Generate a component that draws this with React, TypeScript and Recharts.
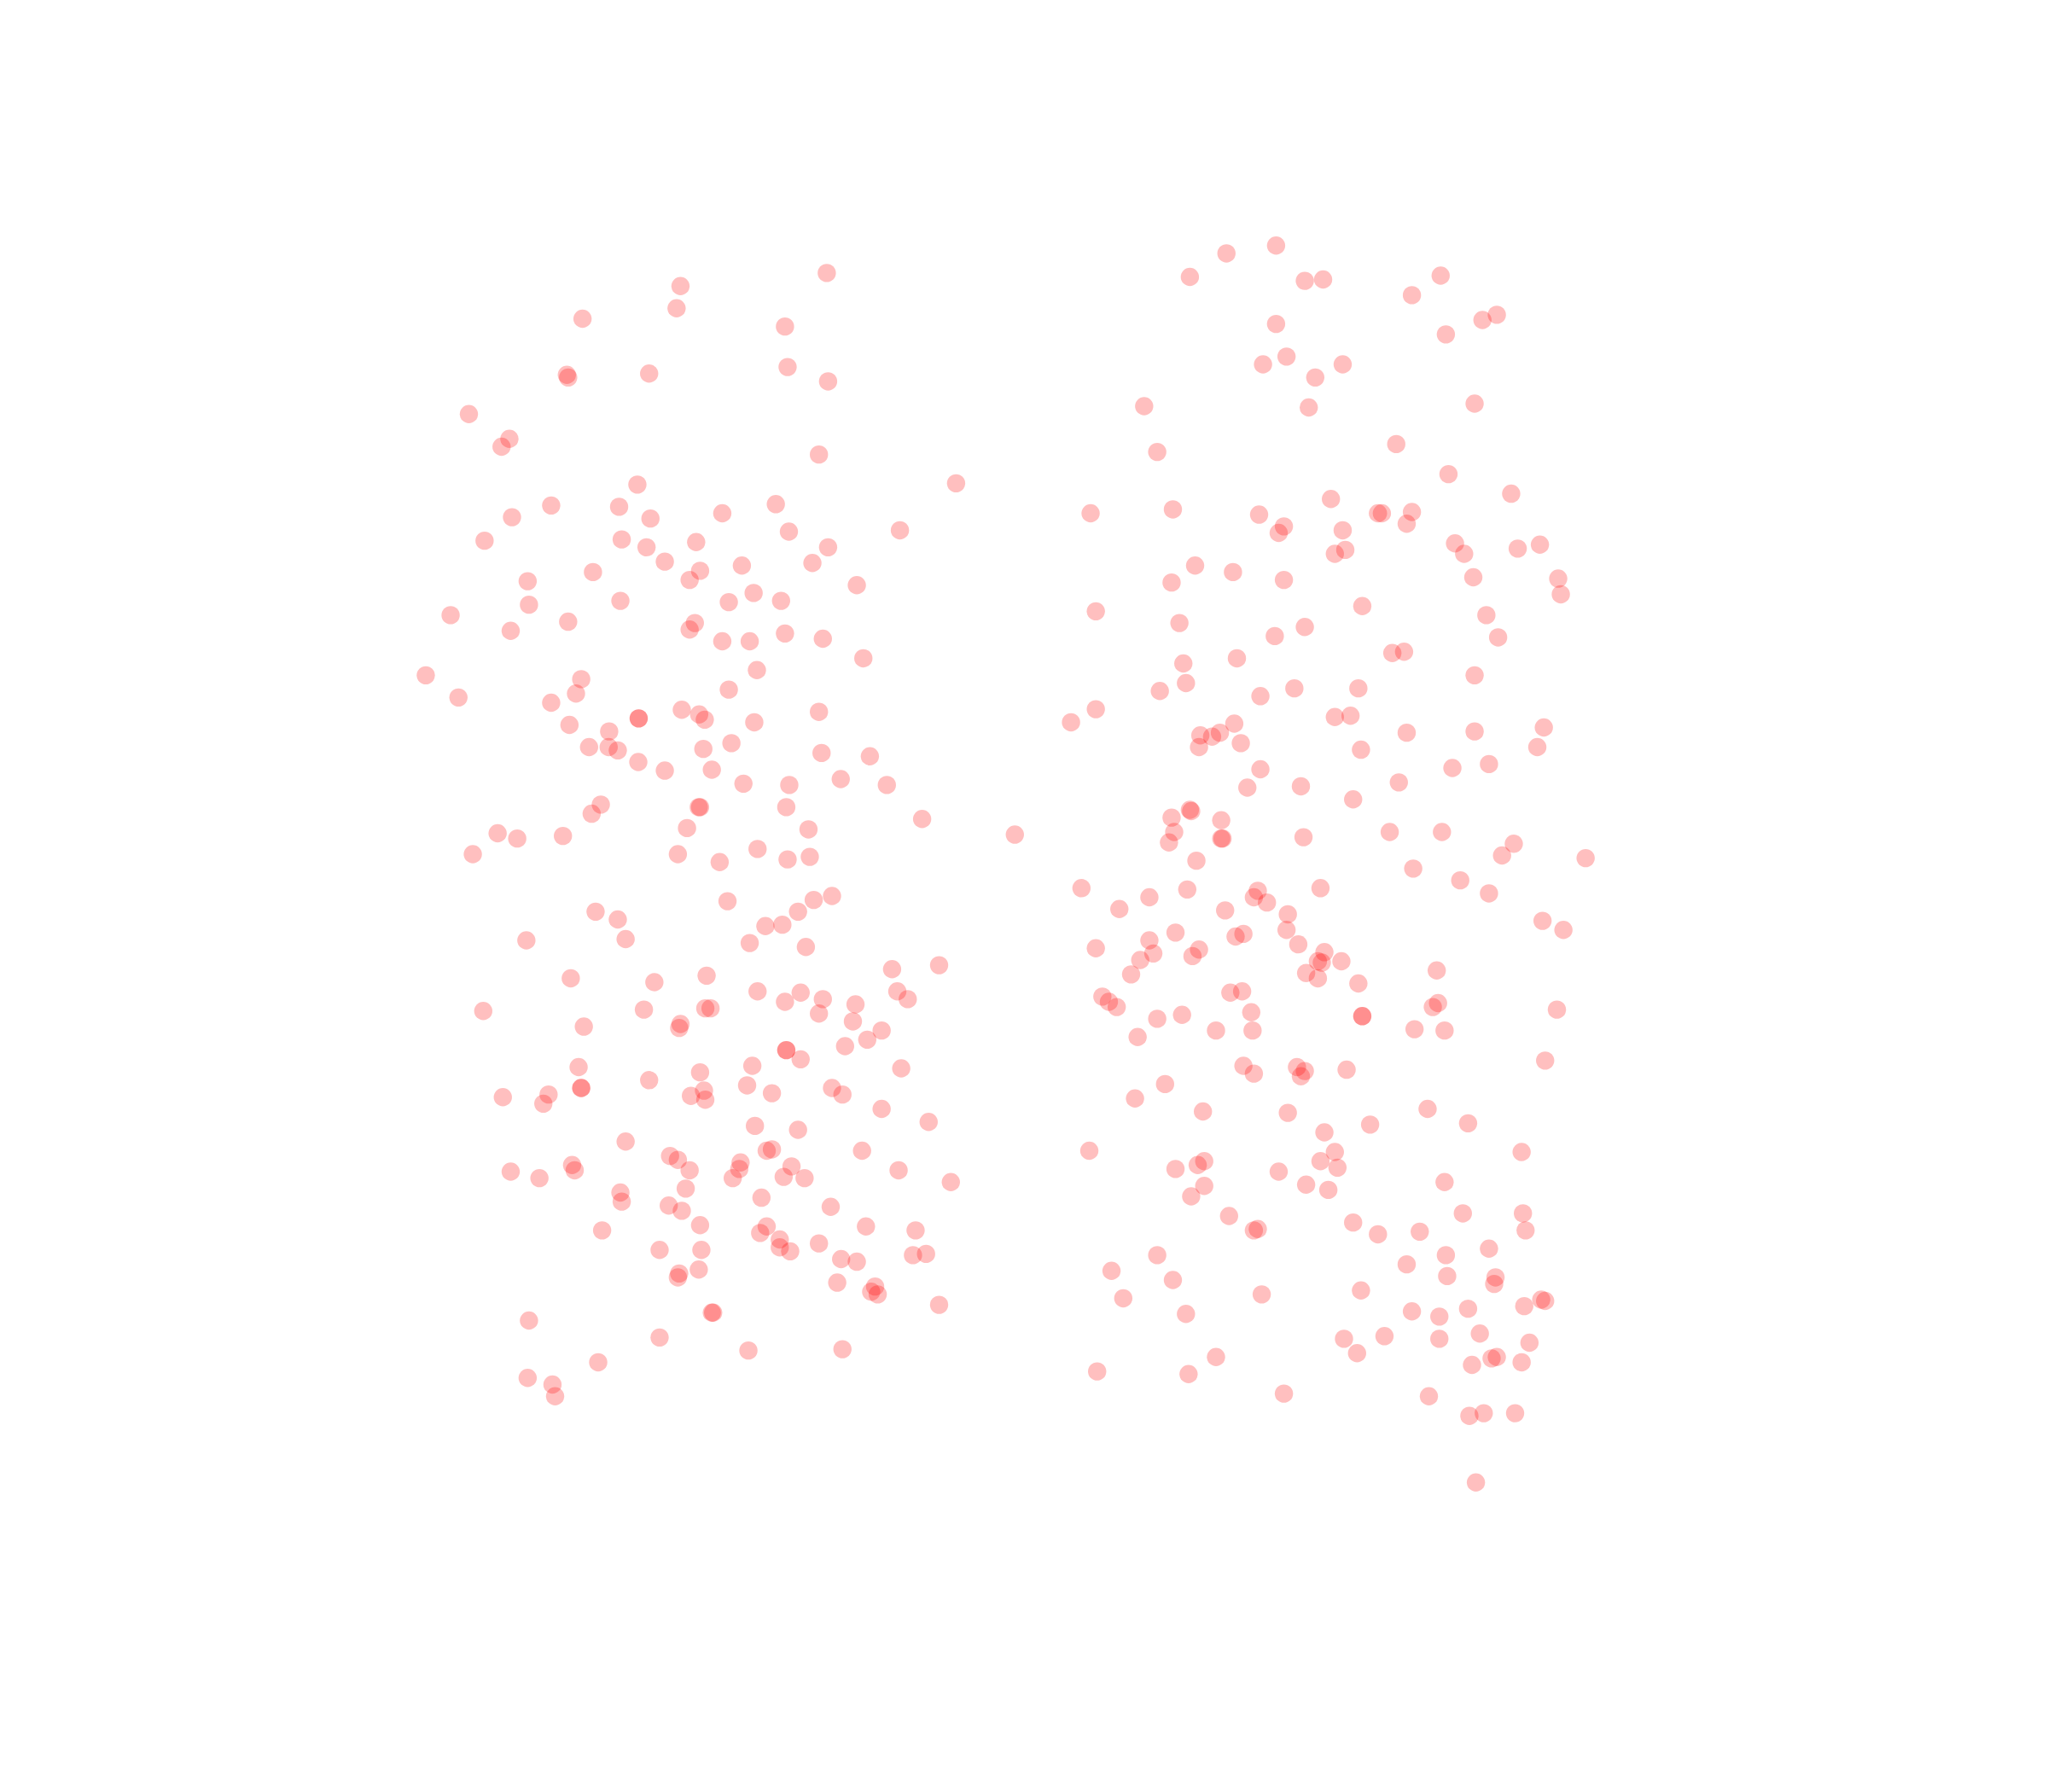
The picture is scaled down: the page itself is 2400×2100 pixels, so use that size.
import { Scatter, ScatterChart, XAxis, YAxis } from 'recharts'

// values, [x, y]
const leftGroup = [
  [633,209],[521,219],[518,236],[446,244],[601,250],[603,281],[434,287],[435,289],[497,286],[634,292],
  [359,317],[390,336],[384,342],[627,348],[488,371],[732,370],[422,387],[474,388],[594,386],[392,396],
  [498,397],[553,393],[604,407],[689,406],[371,414],[476,413],[495,419],[533,415],[634,419],[509,430],
  [622,431],[568,433],[536,437],[454,438],[404,445],[528,444],[656,448],[577,454],[475,460],[405,463],
  [558,461],[598,460],[345,471],[435,476],[532,477],[528,482],[391,483],[601,485],[553,491],[574,491],
  [630,489],[661,504],[326,517],[579.5,513],[445,520],[441,531],[351,534],[558,528],[422,538],[522,543.4],
  [489,550],[489,550],[535.3,547],[539.6,551],[627,545],[436,555],[577.5,553],[466.4,560],[451,572],[466,572],
  [473,574.5],[560,569],[538.5,573.4],[629,576.5],[666,579],[488.7,583.4],[509,590],[545,589.3],[643.7,596.5],[569.2,600],
  [604.3,601],[679,601],[460,616],[453,623],[535,618],[536,618],[602,618],[706,627],[526,634],[619,635],
  [381,638],[396,642],[431,640],[777,639],[362,654],[519,654],[580,650],[551,660],[603,658],[620,656],
  [557,690],[623,689],[637,686],[456,698],[473,704],[611,698],[586,709],[599,708],[403,720],[479,719],
  [574,722],[617,725],[683,742],[719,739],[437,749],[541,747],[501,752],[580,759],[613,760],[601,767],
  [630,765],[687,759],[695,765],[655,769],[370,774],[493,773],[540,772],[544,772],[627,776],[521,784],
  [520,787],[447,786],[653,782],[675,789],[664,796],[647,801],[602,804],[602,804],[613,811],[576,816],
  [443,817],[536,821],[690,818],[497,827],[572,831],[445,833],[445,833],[539,835],[540,842],[529,839],
  [591,837],[637,833],[645,838],[420,838],[416,845],[385,840],[675,849],[578,862],[611,865],[711,859],
  [479,874],[591,880],[587,881],[513,885],[519,888],[660,881],[567,890],[566,895],[528,896],[438,892],
  [440,896],[391,897],[413,902],[561,902],[600,901],[606,893],[616,902],[688,896],[728,905],[525,910],
  [475,913],[476,920],[583,917],[512,923],[522,927],[636,924],[536,938],[587,939],[582,944],[461,942],
  [663,939],[701,942],[597,949],[627,952],[505,957],[537,957],[597,955],[605,958],[644,964],[656,966],
  [699,961],[709,960],[535,972],[520,975],[519,978],[641,982],[670,985],[667,989],[672,991],[719,999],
  [546,1005],[545,1005],[405,1011],[505,1024],[573,1034],[645,1033],[458,1043],[404,1055],[423,1060],[425,1069],
]

const rightGroup = [
  [977,188],[939,194],[911,212],[999,215],[1013,214],[1103,211],[1081,226],[1146,241],[1135,245],[977,248],
  [1107,256],[985,273],[967,279],[1028,279],[1007,289],[1002,312],[876,311],[1129,309],[1069,340],[886,346],
  [1109,363],[1157,378],[1019,382],[898,390],[835,393],[964,394],[1055,393],[1058,393],[1081,392],[1077,401],
  [983,403],[979,408],[1028,406],[1114,416],[1179,417],[1162,420],[1030,421],[1022,424],[1121,424],[915,433],
  [944,438],[1128,442],[1193,443],[897,446],[983,444],[1195,455],[1043,464],[839,468],[1138,471],[903,477],
  [999,480],[976,487],[1147,488],[1066,500],[1075,499],[906,508],[947,504],[1129,517],[908,523],[888,529],
  [991,527],[965,533],[1040,527],[839,543],[1022,549],[1034,548],[820,553],[945,554],[1182,557],[919,563],
  [928,564],[934,561],[1077,561],[1129,560],[950,569],[918,572],[1042,574],[1177,572],[1112,588],[1140,585],
  [965,589],[955,603],[996,602],[1071,599],[1036,612],[911,620],[912,621],[897,626],[935,628],[899,637],
  [895,645],[935,642],[936,642],[998,641],[1064,637],[1104,637],[1159,646],[1150,655],[916,659],[1214,657],
  [1082,665],[1118,674],[828,680],[880,687],[909,681],[963,682],[960,687],[970,691],[1011,680],[1140,684],
  [857,696],[938,697],[986,700],[1181,705],[985,712],[1197,712],[900,714],[952,715],[946,717],[880,720],
  [839,726],[994,723],[918,727],[1014,729],[883,730],[913,732],[873,735],[1009,736],[1012,737],[1027,736],
  [866,746],[1000,745],[1009,749],[1100,743],[1040,753],[951,759],[942,760],[844,763],[849,767],[855,771],
  [1101,768],[1097,771],[958,775],[905,777],[886,780],[1192,773],[1043,778],[1043,778],[931,789],[959,789],
  [871,794],[1083,788],[1106,789],[952,816],[993,817],[999,820],[996,824],[960,822],[1031,819],[1183,812],
  [892,830],[869,841],[921,851],[986,852],[1093,849],[1124,860],[1049,861],[1014,867],[834,881],[1022,882],
  [1165,882],[1011,889],[922,889],[917,892],[900,895],[1024,894],[979,897],[922,908],[1000,907],[1017,911],
  [1106,905],[912,916],[1120,929],[1166,929],[941,931],[1036,936],[963,941],[960,942],[1087,943],[1055,945],
  [1168,942],[1140,956],[886,961],[1107,961],[1077,968],[851,973],[1108,977],[1145,978],[898,980],[1144,983],
  [1042,988],[966,991],[860,994],[1180,995],[1183,996],[1167,1000],[1081,1004],[1124,1002],[908,1006],[1102,1008],
  [1133,1021],[1029,1025],[1060,1023],[1102,1025],[1171,1028],[1039,1036],[931,1039],[1146,1039],[1142,1040],[1127,1045],
  [1165,1043],[840,1050],[910,1052],[983,1067],[1094,1069],[1136,1082],[1125,1084],[1160,1082],[1130,1135],
]

const toRows = (pairs: number[][]) => pairs.map(([x, y]) => ({ x, y }))

const Dot = ({ cx, cy }: any) => <circle cx={cx} cy={cy} r={10.7} fill="#ff0000" fillOpacity={0.25} />

export default function App() {
  return (
    <div style={{ position: 'absolute', top: 0, left: 0 }}>
      <ScatterChart width={2400} height={2100} margin={{ top: 0, right: 0, bottom: 0, left: 0 }}>
        <XAxis type="number" dataKey="x" domain={[0, 1568]} hide />
        <YAxis type="number" dataKey="y" domain={[0, 1372]} reversed hide />
        <Scatter data={toRows(leftGroup)} shape={Dot} isAnimationActive={false} />
        <Scatter data={toRows(rightGroup)} shape={Dot} isAnimationActive={false} />
      </ScatterChart>
    </div>
  )
}
